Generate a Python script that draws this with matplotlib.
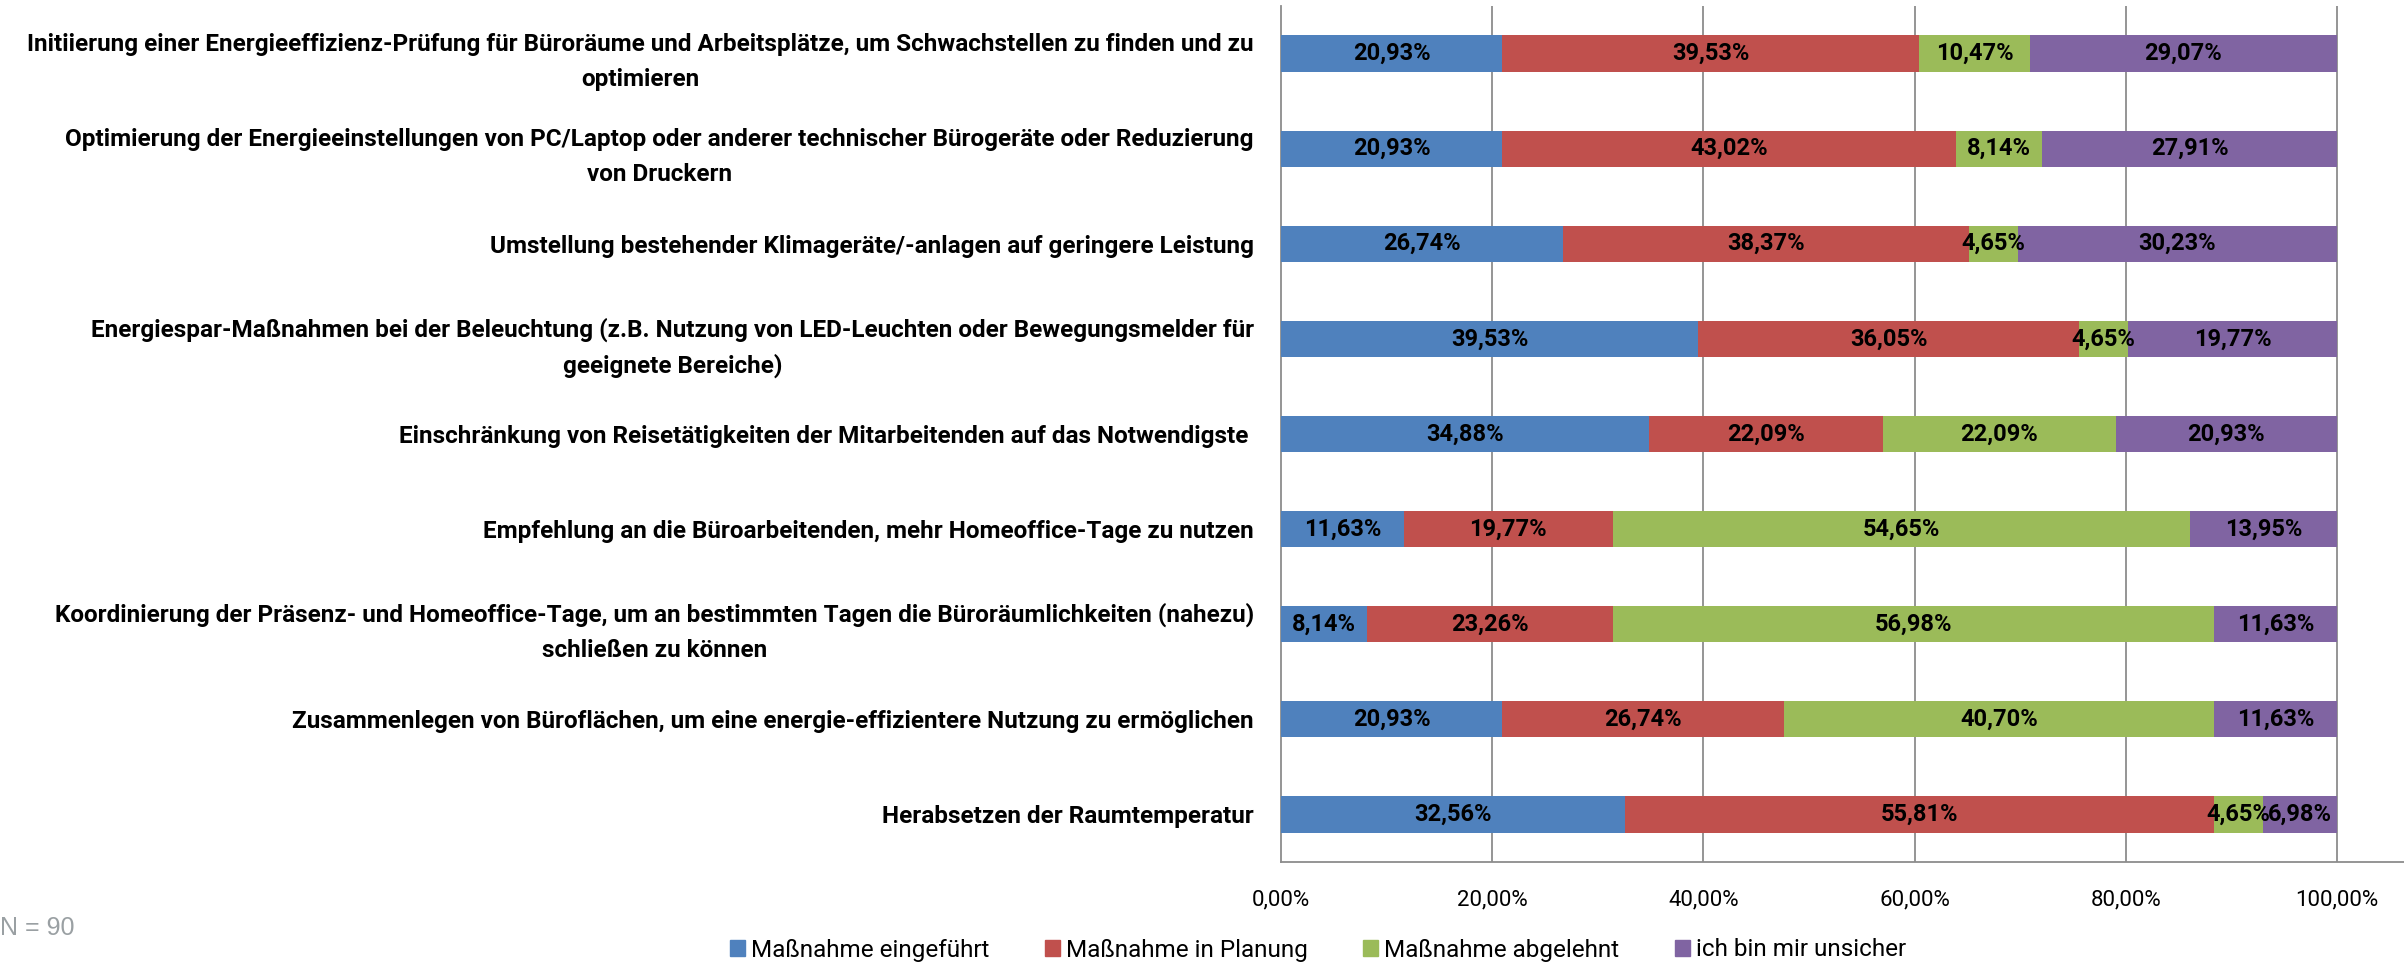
import numpy as np
import matplotlib
matplotlib.use("Agg")
import matplotlib.pyplot as plt
from matplotlib.patches import Patch

plt.rcParams['font.family'] = ['Roboto', 'DejaVu Sans']

categories = [
    "Initiierung einer Energieeffizienz-Prüfung für Büroräume und Arbeitsplätze, um Schwachstellen zu finden und zu\noptimieren",
    "Optimierung der Energieeinstellungen von PC/Laptop oder anderer technischer Bürogeräte oder Reduzierung\nvon Druckern",
    "Umstellung bestehender Klimageräte/-anlagen auf geringere Leistung",
    "Energiespar-Maßnahmen bei der Beleuchtung (z.B. Nutzung von LED-Leuchten oder Bewegungsmelder für\ngeeignete Bereiche)",
    "Einschränkung von Reisetätigkeiten der Mitarbeitenden auf das Notwendigste ",
    "Empfehlung an die Büroarbeitenden, mehr Homeoffice-Tage zu nutzen",
    "Koordinierung der Präsenz- und Homeoffice-Tage, um an bestimmten Tagen die Büroräumlichkeiten (nahezu)\nschließen zu können",
    "Zusammenlegen von Büroflächen, um eine energie-effizientere Nutzung zu ermöglichen",
    "Herabsetzen der Raumtemperatur",
]
series_names = ["Maßnahme eingeführt", "Maßnahme in Planung", "Maßnahme abgelehnt", "ich bin mir unsicher"]
eingefuehrt = [20.93, 20.93, 26.74, 39.53, 34.88, 11.63, 8.14, 20.93, 32.56]
in_planung = [39.53, 43.02, 38.37, 36.05, 22.09, 19.77, 23.26, 26.74, 55.81]
abgelehnt = [10.47, 8.14, 4.65, 4.65, 22.09, 54.65, 56.98, 40.70, 4.65]
unsicher = [29.07, 27.91, 30.23, 19.77, 20.93, 13.95, 11.63, 11.63, 6.98]
colors = ["#4F81BD", "#C0504D", "#9BBB59", "#8064A2"]
xticks = [0, 20, 40, 60, 80, 100]

fig = plt.figure(figsize=(24.04, 9.65), dpi=100)
ax = fig.add_axes([1281 / 2404, 103 / 965, 1 - 1281 / 2404, 856 / 965])

y = np.arange(len(categories))
left = np.zeros(len(categories))
for vals, name, col in zip([eingefuehrt, in_planung, abgelehnt, unsicher], series_names, colors):
    vals = np.array(vals)
    ax.barh(y, vals, left=left, height=0.38, color=col, label=name, zorder=3)
    for yi, l, v in zip(y, left, vals):
        ax.text(l + v / 2, yi, f"{v:.2f}%".replace(".", ","), ha="center", va="center",
                fontsize=17, fontweight="bold", color="black", zorder=4)
    left += vals

ax.set_ylim(len(categories) - 0.5, -0.5)
ax.set_xlim(0, 106.35)
ax.set_yticks(y)
ax.set_yticklabels(categories, fontsize=17.5, fontweight="bold", linespacing=1.65,
                   multialignment="center")
ax.set_xticks(xticks)
ax.set_xticklabels([f"{t:.2f}%".replace(".", ",") for t in xticks], fontsize=16)
ax.tick_params(axis="y", length=0, pad=19.5)
ax.tick_params(axis="x", length=0, pad=20)
for t in xticks[1:]:
    ax.axvline(t, color="#8C8C8C", lw=1.3, zorder=1)
for s in ["top", "right"]:
    ax.spines[s].set_visible(False)
ax.spines["left"].set_color("#8C8C8C")
ax.spines["bottom"].set_color("#8C8C8C")
ax.spines["left"].set_linewidth(1.3)
ax.spines["bottom"].set_linewidth(1.3)

handles = [Patch(color=c) for c in colors]
fig.legend(handles, series_names, loc="center", bbox_to_anchor=(1318 / 2404, 15 / 965), ncol=4,
           frameon=False, fontsize=17.5, handlelength=0.6, handleheight=0.6, columnspacing=2.3,
           handletextpad=0.25)

fig.text(0, 1 - 928 / 965, "N = 90", fontsize=18, color="#9AA0A3", va="center", ha="left",
         family="Liberation Sans")

fig.savefig("out.png", dpi=100)
